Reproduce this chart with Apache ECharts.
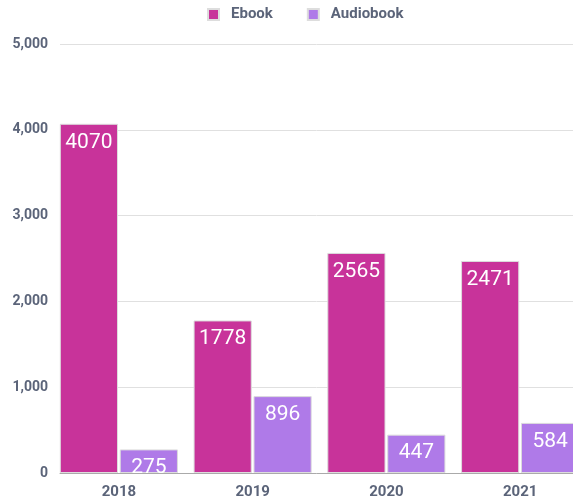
<!DOCTYPE html>
<html><head><meta charset="utf-8">
<script src="https://cdn.jsdelivr.net/npm/echarts@6/dist/echarts.min.js"></script>
<style>html,body{margin:0;padding:0;background:#fff}#c{width:573px;height:502px}</style>
</head><body><div id="c"></div>
<script>
const years = ['2018', '2019', '2020', '2021'];
const ebook = [4070, 1778, 2565, 2471];
const audiobook = [275, 896, 447, 584];
const yTicks = { min: 0, max: 5000, interval: 1000 };

const grey = '#5b6479';
const chart = echarts.init(document.getElementById('c'));
chart.setOption({
  animation: false,
  textStyle: { fontFamily: 'Roboto' },
  legend: {
    top: 2, left: 202, itemWidth: 11, itemHeight: 11, itemGap: 34,
    icon: 'rect',
    textStyle: { color: grey, fontWeight: 'bold', fontSize: 15, fontFamily: 'Roboto', padding: [0, 0, 0, 7] },
    data: ['Ebook', 'Audiobook']
  },
  grid: [
    { left: 60, right: 0, top: 44, bottom: 29, outerBoundsMode: 'none', containLabel: false },
    { left: 52, right: -14, top: 44, bottom: 29, outerBoundsMode: 'none', containLabel: false }
  ],
  xAxis: [
    { type: 'category', gridIndex: 0, data: years,
      axisLine: { show: true, lineStyle: { color: '#aaaaaa', width: 1 } },
      axisTick: { show: false }, axisLabel: { show: false } },
    { type: 'category', gridIndex: 1, data: years,
      axisLine: { show: false }, axisTick: { show: false },
      axisLabel: { color: grey, fontWeight: 'bold', fontSize: 15, fontFamily: 'Roboto', margin: 12 } }
  ],
  yAxis: [
    { type: 'value', gridIndex: 0, min: yTicks.min, max: yTicks.max, interval: yTicks.interval,
      axisLine: { show: false }, axisTick: { show: false },
      splitLine: { lineStyle: { color: '#e0e0e0' } },
      axisLabel: { color: grey, fontWeight: 'bold', fontSize: 14, fontFamily: 'Roboto', margin: 12,
        formatter: v => v.toLocaleString('en-US') } },
    { type: 'value', gridIndex: 1, min: yTicks.min, max: yTicks.max, interval: yTicks.interval, show: false,
      splitLine: { show: false } }
  ],
  series: [
    { name: 'Ebook', type: 'bar', xAxisIndex: 1, yAxisIndex: 1, data: ebook,
      barGap: '3%', barCategoryGap: '11.7%',
      itemStyle: { color: '#c8339a', borderColor: '#dddddd', borderWidth: 1 },
      label: { show: true, position: 'insideTop', distance: 8, color: '#fff', fontSize: 21, fontFamily: 'Roboto' } },
    { name: 'Audiobook', type: 'bar', xAxisIndex: 1, yAxisIndex: 1, data: audiobook,
      itemStyle: { color: '#af7ae8', borderColor: '#dddddd', borderWidth: 1 },
      label: { show: true, position: 'insideTop', distance: 8, color: '#fff', fontSize: 21, fontFamily: 'Roboto' } }
  ]
});
</script></body></html>
